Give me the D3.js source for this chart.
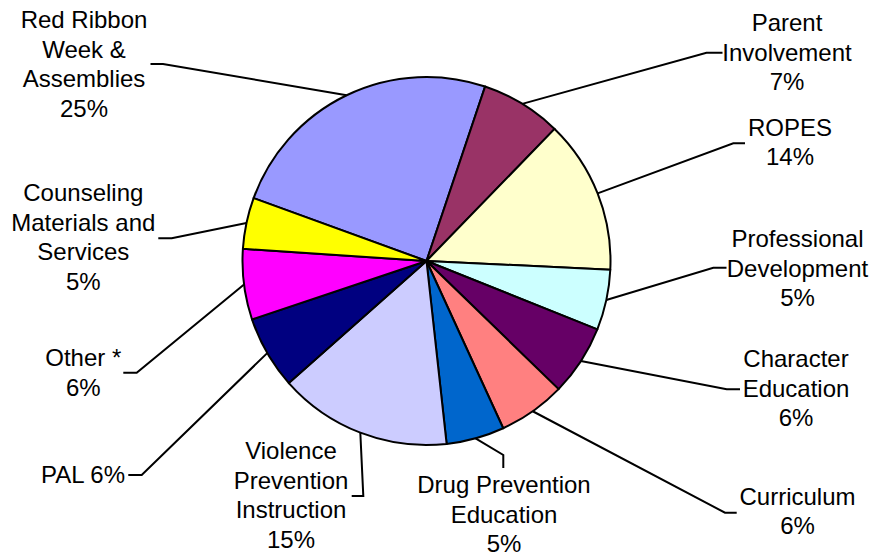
<!DOCTYPE html>
<html>
<head>
<meta charset="utf-8">
<script src="https://cdn.jsdelivr.net/npm/d3@7"></script>
<style>
  html, body { margin: 0; padding: 0; background: #ffffff; }
  svg { display: block; }
  text { font-family: "Liberation Sans", Arial, sans-serif; font-size: 24px; fill: #000; }
</style>
</head>
<body>
<svg id="chart" width="872" height="556"></svg>
<script>
// ---- data ----
const categories = [
  "Red Ribbon Week & Assemblies",
  "Parent Involvement",
  "ROPES",
  "Professional Development",
  "Character Education",
  "Curriculum",
  "Drug Prevention Education",
  "Violence Prevention Instruction",
  "PAL",
  "Other *",
  "Counseling Materials and Services"
];
const values = [24.6, 7.1, 13.5, 5.3, 6.2, 5.9, 5.1, 15.2, 6.4, 6.2, 4.5];
const labelLines = [
  ["Red Ribbon", "Week &", "Assemblies"],
  ["Parent", "Involvement"],
  ["ROPES"],
  ["Professional", "Development"],
  ["Character", "Education"],
  ["Curriculum"],
  ["Drug Prevention", "Education"],
  ["Violence", "Prevention", "Instruction"],
  ["PAL"],
  ["Other *"],
  ["Counseling", "Materials and", "Services"]
];
const percentInline = [false, false, false, false, false, false, false, false, true, false, false];
const colors = ["#9999FF", "#993366", "#FFFFCC", "#CCFFFF", "#660066", "#FF8080",
                "#0066CC", "#CCCCFF", "#000080", "#FF00FF", "#FFFF00"];

// ---- layout (label anchor: centre x, first baseline y; leader elbow and end) ----
const layout = [
  { cx: 84,    by: 28,    elbow: [163, 64],    end: [150.5, 64] },
  { cx: 787,   by: 31,    elbow: [706.5, 52.7], end: [722.5, 52.7] },
  { cx: 790,   by: 135.5, elbow: [733.3, 143.3], end: [745, 143.3] },
  { cx: 797.5, by: 247,   elbow: [713.3, 267.7], end: [726.5, 267.7] },
  { cx: 796,   by: 367,   elbow: [726.7, 389.3], end: [740, 389.3] },
  { cx: 797.5, by: 504.5, elbow: [725, 512.7],  end: [736.7, 512.7] },
  { cx: 504,   by: 493,   elbow: [503.3, 455],  end: [503.3, 468] },
  { cx: 291,   by: 459,   elbow: [363.3, 496],  end: [351.7, 496] },
  { cx: 83,    by: 483,   elbow: [141.7, 475],  end: [128.3, 475] },
  { cx: 83.3,  by: 366,   elbow: [136.7, 372.7], end: [123.3, 372.7] },
  { cx: 83.3,  by: 201,   elbow: [171.7, 238.3], end: [158.3, 238.3] }
];

const cx = 426.5, cy = 261, R = 184;
const lineH = 29.7;
const startDeg = -70;

const svg = d3.select("#chart");
const g = svg.append("g").attr("transform", `translate(${cx},${cy})`);

const data = categories.map((c, i) => ({ name: c, value: values[i], i }));

const pie = d3.pie()
  .value(d => d.value)
  .sort(null)
  .startAngle(startDeg * Math.PI / 180)
  .endAngle(startDeg * Math.PI / 180 + 2 * Math.PI);

const arcs = pie(data);
const arc = d3.arc().innerRadius(0).outerRadius(R);

g.selectAll("path.slice")
  .data(arcs)
  .join("path")
  .attr("class", "slice")
  .attr("d", arc)
  .attr("fill", d => colors[d.data.i])
  .attr("stroke", "#000")
  .attr("stroke-width", 2)
  .attr("stroke-linejoin", "round");

// leader lines
const line = d3.line();
arcs.forEach(a => {
  const i = a.data.i;
  const mid = (a.startAngle + a.endAngle) / 2;
  const p0 = [cx + R * Math.sin(mid), cy - R * Math.cos(mid)];
  const L = layout[i];
  svg.append("path")
    .attr("d", line([p0, L.elbow, L.end]))
    .attr("fill", "none")
    .attr("stroke", "#000")
    .attr("stroke-width", 2);
});

// labels
arcs.forEach(a => {
  const i = a.data.i;
  const pct = Math.round(values[i]) + "%";
  const lines = labelLines[i].slice();
  if (percentInline[i]) lines[lines.length - 1] += " " + pct;
  else lines.push(pct);
  const L = layout[i];
  const t = svg.append("text").attr("text-anchor", "middle");
  lines.forEach((s, k) => {
    t.append("tspan").attr("x", L.cx).attr("y", L.by + k * lineH).text(s);
  });
});
</script>
</body>
</html>
